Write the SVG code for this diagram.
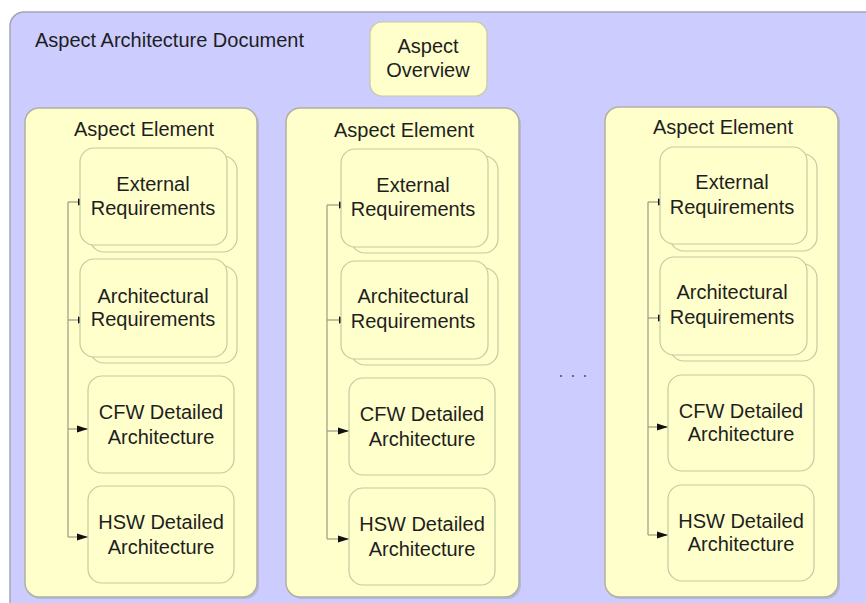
<svg xmlns="http://www.w3.org/2000/svg" width="866" height="603" viewBox="0 0 866 603">
<defs>
<style>
text{font-family:"Liberation Sans",Arial,sans-serif;font-size:20px;fill:#1e1e1e;text-anchor:middle}
.doc{fill:#ccccfe;stroke:#a4a4b4;stroke-width:1.5}
.col{fill:#ffffcc;stroke:#b0b0a4;stroke-width:1.5}
.colsh{fill:#a8a8c4;opacity:0.6}
.box{fill:#ffffcc;stroke:#c8c8a2;stroke-width:1.2}
.ln{fill:none;stroke:#9a9a84;stroke-width:1.2}
</style>
<marker id="arr" viewBox="0 0 11 8" refX="11" refY="4" markerWidth="11" markerHeight="8" markerUnits="userSpaceOnUse" orient="auto">
<path d="M0,0.5 L11,4 L0,7.5 z" fill="#111"/>
</marker>
<marker id="arrh" viewBox="0 0 13 8" refX="13" refY="4" markerWidth="13" markerHeight="8" markerUnits="userSpaceOnUse" orient="auto">
<path d="M0,0.5 L13,4 L0,7.5 z" fill="#111"/>
</marker>
</defs>

<g id="document">
<rect class="doc" x="10" y="12" width="880" height="610" rx="14"/>
<text x="35" y="47" style="text-anchor:start">Aspect Architecture Document</text>
</g>

<g id="overview">
<rect class="box" x="370" y="22" width="117" height="74" rx="12"/>
<text x="428" y="53">Aspect</text>
<text x="428" y="77">Overview</text>
</g>

<g id="element1">
<rect class="colsh" x="27" y="110" width="232" height="489" rx="14"/>
<rect class="col" x="25" y="108" width="232" height="489" rx="14"/>
<text x="144" y="136">Aspect Element</text>
</g>
<g id="element2">
<rect class="colsh" x="288" y="110" width="233" height="489" rx="14"/>
<rect class="col" x="286" y="108" width="233" height="489" rx="14"/>
<text x="404" y="137">Aspect Element</text>
</g>
<g id="element3">
<rect class="colsh" x="607" y="109" width="233" height="490" rx="14"/>
<rect class="col" x="605" y="107" width="233" height="490" rx="14"/>
<text x="723" y="134">Aspect Element</text>
</g>

<g id="connectors">
<path class="ln" d="M68,202 V537"/>
<path class="ln" d="M68,202 H91" marker-end="url(#arrh)"/>
<path class="ln" d="M68,320 H91" marker-end="url(#arrh)"/>
<path class="ln" d="M68,429 H88" marker-end="url(#arr)"/>
<path class="ln" d="M68,537 H88" marker-end="url(#arr)"/>

<path class="ln" d="M327,205 V539"/>
<path class="ln" d="M327,205 H352" marker-end="url(#arrh)"/>
<path class="ln" d="M327,320 H352" marker-end="url(#arrh)"/>
<path class="ln" d="M327,431 H349" marker-end="url(#arr)"/>
<path class="ln" d="M327,539 H349" marker-end="url(#arr)"/>

<path class="ln" d="M648,202 V535"/>
<path class="ln" d="M648,202 H671" marker-end="url(#arrh)"/>
<path class="ln" d="M648,318 H671" marker-end="url(#arrh)"/>
<path class="ln" d="M648,427 H668" marker-end="url(#arr)"/>
<path class="ln" d="M648,535 H668" marker-end="url(#arr)"/>
</g>

<g id="ext1">
<rect class="box" x="90" y="156" width="147" height="96" rx="14"/>
<rect class="box" x="80" y="148" width="147" height="97" rx="14"/>
<text x="153" y="191">External</text>
<text x="153" y="215">Requirements</text>
</g>
<g id="arch1">
<rect class="box" x="90" y="266" width="147" height="97" rx="14"/>
<rect class="box" x="80" y="259" width="147" height="98" rx="14"/>
<text x="153" y="303">Architectural</text>
<text x="153" y="326">Requirements</text>
</g>
<g id="cfw1">
<rect class="box" x="88" y="376" width="146" height="97" rx="14"/>
<text x="161" y="419">CFW Detailed</text>
<text x="161" y="444">Architecture</text>
</g>
<g id="hsw1">
<rect class="box" x="88" y="486" width="146" height="97" rx="14"/>
<text x="161" y="529">HSW Detailed</text>
<text x="161" y="554">Architecture</text>
</g>

<g id="ext2">
<rect class="box" x="351" y="156" width="147" height="97" rx="14"/>
<rect class="box" x="341" y="149" width="147" height="98" rx="14"/>
<text x="413" y="192">External</text>
<text x="413" y="216">Requirements</text>
</g>
<g id="arch2">
<rect class="box" x="351" y="268" width="147" height="97" rx="14"/>
<rect class="box" x="341" y="261" width="147" height="98" rx="14"/>
<text x="413" y="303">Architectural</text>
<text x="413" y="328">Requirements</text>
</g>
<g id="cfw2">
<rect class="box" x="349" y="378" width="146" height="97" rx="14"/>
<text x="422" y="421">CFW Detailed</text>
<text x="422" y="446">Architecture</text>
</g>
<g id="hsw2">
<rect class="box" x="349" y="488" width="146" height="97" rx="14"/>
<text x="422" y="531">HSW Detailed</text>
<text x="422" y="556">Architecture</text>
</g>

<g id="ext3">
<rect class="box" x="670" y="154" width="147" height="97" rx="14"/>
<rect class="box" x="660" y="147" width="147" height="97" rx="14"/>
<text x="732" y="189">External</text>
<text x="732" y="214">Requirements</text>
</g>
<g id="arch3">
<rect class="box" x="670" y="264" width="147" height="97" rx="14"/>
<rect class="box" x="660" y="257" width="147" height="98" rx="14"/>
<text x="732" y="299">Architectural</text>
<text x="732" y="324">Requirements</text>
</g>
<g id="cfw3">
<rect class="box" x="668" y="375" width="146" height="96" rx="14"/>
<text x="741" y="418">CFW Detailed</text>
<text x="741" y="441">Architecture</text>
</g>
<g id="hsw3">
<rect class="box" x="668" y="485" width="146" height="96" rx="14"/>
<text x="741" y="528">HSW Detailed</text>
<text x="741" y="551">Architecture</text>
</g>

<g id="ellipsis" fill="#555566">
<circle cx="561" cy="376" r="1.1"/>
<circle cx="573" cy="376" r="1.1"/>
<circle cx="585" cy="376" r="1.1"/>
</g>
</svg>
